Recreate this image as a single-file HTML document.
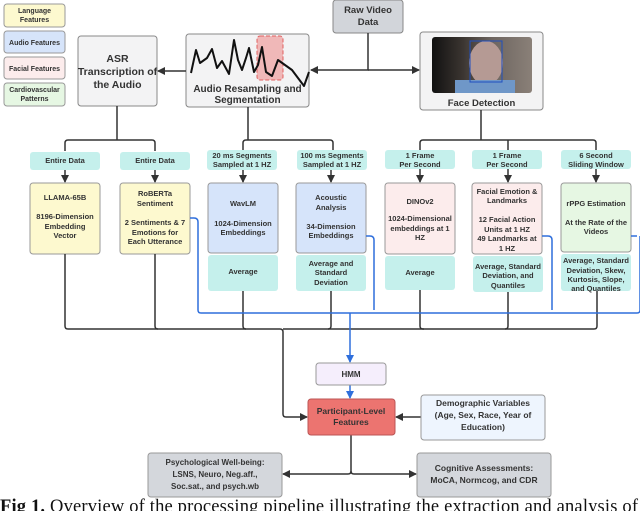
<!DOCTYPE html>
<html><head><meta charset="utf-8"><style>
body{margin:0;background:#fff;width:640px;height:511px;overflow:hidden}
svg{display:block}
text{font-family:"Liberation Sans",sans-serif;font-weight:bold;fill:#333;text-anchor:middle}
text.cap{font-family:"Liberation Serif",serif;font-weight:normal;fill:#111;text-anchor:start}
</style></head><body>
<svg width="640" height="511" viewBox="0 0 640 511">
<defs>
<marker id="a" markerWidth="8" markerHeight="8" refX="7" refY="4" orient="auto" markerUnits="userSpaceOnUse"><path d="M0,0 L8,4 L0,8z" fill="#333"/></marker>
<marker id="b" markerWidth="8" markerHeight="8" refX="7" refY="4" orient="auto" markerUnits="userSpaceOnUse"><path d="M0,0 L8,4 L0,8z" fill="#2f6fdc"/></marker>
<linearGradient id="ph" x1="0" x2="1"><stop offset="0" stop-color="#111"/><stop offset="0.3" stop-color="#3a3430"/><stop offset="0.6" stop-color="#6d6560"/><stop offset="1" stop-color="#8a8078"/></linearGradient>
</defs>
<g stroke="#999" stroke-width="1">
<rect x="4" y="4" width="61" height="23" rx="3" fill="#fdf9cf"/>
<rect x="4" y="31" width="61" height="22" rx="3" fill="#d6e4fa"/>
<rect x="4" y="57" width="61" height="22" rx="3" fill="#fcecec"/>
<rect x="4" y="83" width="61" height="23" rx="3" fill="#e6f7e3"/>
</g>
<g font-size="7">
<text x="34.5" y="13">Language</text><text x="34.5" y="22">Features</text>
<text x="34.5" y="45">Audio Features</text>
<text x="34.5" y="71">Facial Features</text>
<text x="34.5" y="92">Cardiovascular</text><text x="34.5" y="101">Patterns</text>
</g>
<rect x="78" y="36" width="79" height="70" rx="3" fill="#f3f3f4" stroke="#888"/>
<g font-size="10.5"><text x="117.5" y="62">ASR</text><text x="117.5" y="75">Transcription of</text><text x="117.5" y="88">the Audio</text></g>
<rect x="186" y="34" width="123" height="73" rx="3" fill="#f3f3f4" stroke="#888"/>
<rect x="257" y="36" width="26" height="44" rx="3" fill="#f0b8b8" stroke="#e06060" stroke-dasharray="4,2"/>
<polyline points="191,73 196,50 200,63 207,58 212,49 217,68 222,61 229,74 234,40 238,60 242,70 246,58 249,48 254,72 258,65 262,47 266,72 272,76 278,60 292,70 304,86 309,72" fill="none" stroke="#111" stroke-width="2" stroke-linejoin="round"/>
<g font-size="10"><text x="247.5" y="92">Audio Resampling and</text><text x="247.5" y="103">Segmentation</text></g>
<rect x="333" y="0" width="70" height="33" rx="3" fill="#d2d5da" stroke="#888"/>
<g font-size="9.5"><text x="368" y="13">Raw Video</text><text x="368" y="25">Data</text></g>
<rect x="420" y="32" width="123" height="78" rx="3" fill="#f3f3f4" stroke="#888"/>
<rect x="432" y="37" width="100" height="56" rx="3" fill="url(#ph)"/>
<ellipse cx="486" cy="63" rx="17" ry="22" fill="#b59a94"/>
<rect x="455" y="80" width="60" height="13" fill="#6f97c8"/>
<rect x="470" y="41" width="32" height="41" fill="none" stroke="#1f4fbf" stroke-width="1"/>
<text x="481.5" y="106" font-size="9.5">Face Detection</text>
<g stroke="#333" stroke-width="1.5" fill="none">
<line x1="186" y1="71" x2="158" y2="71" marker-end="url(#a)"/>
<path d="M368,33 V70 H311" marker-end="url(#a)"/>
<path d="M368,70 H419" marker-end="url(#a)"/>
<path d="M117,106 V140 M65,151 V143 Q65,140 68,140 H152 Q155,140 155,143 V151"/>
<path d="M248,107 V140 M243,150 V143 Q243,140 246,140 H330 Q333,140 333,143 V150"/>
<path d="M481,110 V140 M420,150 V143 Q420,140 423,140 H593 Q596,140 596,143 V150 M508,140 V150"/>
<path d="M65,170 V182" marker-end="url(#a)"/><path d="M155,170 V182" marker-end="url(#a)"/>
<path d="M243,170 V182" marker-end="url(#a)"/><path d="M331,170 V182" marker-end="url(#a)"/>
<path d="M420,169 V182" marker-end="url(#a)"/><path d="M508,169 V182" marker-end="url(#a)"/>
<path d="M596,169 V182" marker-end="url(#a)"/>
</g>
<g fill="#c5f0ec">
<rect x="30" y="152" width="70" height="18" rx="3"/><rect x="120" y="152" width="70" height="18" rx="3"/>
<rect x="207" y="150" width="70" height="20" rx="3"/><rect x="297" y="150" width="70" height="20" rx="3"/>
<rect x="385" y="150" width="70" height="19" rx="3"/><rect x="472" y="150" width="70" height="19" rx="3"/>
<rect x="561" y="150" width="70" height="19" rx="3"/>
</g>
<g font-size="7.5">
<text x="65" y="163">Entire Data</text><text x="155" y="163">Entire Data</text>
<text x="242" y="158">20 ms Segments</text><text x="242" y="167">Sampled at 1 HZ</text>
<text x="332" y="158">100 ms Segments</text><text x="332" y="167">Sampled at 1 HZ</text>
<text x="420" y="158">1 Frame</text><text x="420" y="167">Per Second</text>
<text x="507" y="158">1 Frame</text><text x="507" y="167">Per Second</text>
<text x="596" y="158">6 Second</text><text x="596" y="167">Sliding Window</text>
</g>
<g stroke="#999">
<rect x="30" y="183" width="70" height="71" rx="3" fill="#fdf9cf"/>
<rect x="120" y="183" width="70" height="71" rx="3" fill="#fdf9cf"/>
<rect x="208" y="183" width="70" height="70" rx="3" fill="#d6e4fa"/>
<rect x="296" y="183" width="70" height="70" rx="3" fill="#d6e4fa"/>
<rect x="385" y="183" width="70" height="71" rx="3" fill="#fcecec"/>
<rect x="472" y="183" width="70" height="71" rx="3" fill="#fcecec"/>
<rect x="561" y="183" width="70" height="69" rx="3" fill="#e6f7e3"/>
</g>
<g fill="#c5f0ec">
<rect x="208" y="255" width="70" height="36" rx="3"/><rect x="296" y="255" width="70" height="36" rx="3"/>
<rect x="385" y="256" width="70" height="34" rx="3"/><rect x="473" y="256" width="70" height="36" rx="3"/>
<rect x="561" y="254" width="70" height="37" rx="3"/>
</g>
<g font-size="7.5">
<text x="65" y="200">LLAMA-65B</text><text x="65" y="219">8196-Dimension</text><text x="65" y="229">Embedding</text><text x="65" y="238">Vector</text>
<text x="155" y="196">RoBERTa</text><text x="155" y="206">Sentiment</text><text x="155" y="225">2 Sentiments &amp; 7</text><text x="155" y="235">Emotions for</text><text x="155" y="244">Each Utterance</text>
<text x="243" y="206">WavLM</text><text x="243" y="226">1024-Dimension</text><text x="243" y="235">Embeddings</text>
<text x="243" y="274">Average</text>
<text x="331" y="200">Acoustic</text><text x="331" y="210">Analysis</text><text x="331" y="229">34-Dimension</text><text x="331" y="238">Embeddings</text>
<text x="331" y="266">Average and</text><text x="331" y="275">Standard</text><text x="331" y="285">Deviation</text>
<text x="420" y="204">DINOv2</text><text x="420" y="221">1024-Dimensional</text><text x="420" y="231">embeddings at 1</text><text x="420" y="240">HZ</text>
<text x="420" y="275">Average</text>
<text x="507" y="194">Facial Emotion &amp;</text><text x="507" y="203">Landmarks</text><text x="507" y="222">12 Facial Action</text><text x="507" y="232">Units at 1 HZ</text><text x="507" y="241">49 Landmarks at</text><text x="507" y="251">1 HZ</text>
<text x="508" y="269">Average, Standard</text><text x="508" y="278">Deviation, and</text><text x="508" y="288">Quantiles</text>
<text x="596" y="206">rPPG Estimation</text><text x="596" y="225">At the Rate of the</text><text x="596" y="234">Videos</text>
<text x="596" y="263">Average, Standard</text><text x="596" y="273">Deviation, Skew,</text><text x="596" y="282">Kurtosis, Slope,</text><text x="596" y="291">and Quantiles</text>
</g>
<g stroke="#333" stroke-width="1.5" fill="none">
<path d="M65,254 V326 Q65,329 68,329 H280 Q283,329 283,332 V414 Q283,417 286,417 H307" marker-end="url(#a)"/>
<path d="M155,254 V326 Q155,329 158,329"/>
<path d="M243,291 V326 Q243,329 246,329"/>
<path d="M331,291 V326 Q331,329 328,329"/>
<path d="M420,290 V326 Q420,329 423,329 H594 Q597,329 597,326 V291"/>
<path d="M508,292 V326 Q508,329 505,329"/>
<path d="M283,329 H424"/>
<path d="M421,417 H396" marker-end="url(#a)"/>
<path d="M351,435 V471 Q351,474 348,474 H283" marker-end="url(#a)"/>
<path d="M351,471 Q351,474 354,474 H416" marker-end="url(#a)"/>
</g>
<g stroke="#2f6fdc" stroke-width="1.5" fill="none">
<path d="M190,218 H194 Q198,218 198,222 V310 Q198,313 201,313 H637 Q640,313 640,310 V236"/>
<path d="M366,236 H370 Q374,236 374,240 V310"/>
<path d="M542,236 H548 Q552,236 552,240 V310"/>
<path d="M631,236 H637"/>
<path d="M350,313 V362" marker-end="url(#b)"/>
<path d="M350,385 V398" marker-end="url(#b)"/>
</g>
<rect x="316" y="363" width="70" height="22" rx="3" fill="#f5eefc" stroke="#999"/>
<text x="351" y="377" font-size="8">HMM</text>
<rect x="308" y="399" width="87" height="36" rx="3" fill="#ec7470" stroke="#b55"/>
<g font-size="8.5"><text x="351" y="414">Participant-Level</text><text x="351" y="425">Features</text></g>
<rect x="421" y="395" width="124" height="45" rx="3" fill="#eef5fe" stroke="#999"/>
<g font-size="8.5"><text x="483" y="406">Demographic Variables</text><text x="483" y="418">(Age, Sex, Race, Year of</text><text x="483" y="430">Education)</text></g>
<rect x="148" y="453" width="134" height="44" rx="3" fill="#d4d7dc" stroke="#999"/>
<g font-size="8"><text x="215" y="465">Psychological Well-being:</text><text x="215" y="477">LSNS, Neuro, Neg.aff.,</text><text x="215" y="489">Soc.sat., and psych.wb</text></g>
<rect x="417" y="453" width="134" height="44" rx="3" fill="#d4d7dc" stroke="#999"/>
<g font-size="8.5"><text x="484" y="471">Cognitive Assessments:</text><text x="484" y="483">MoCA, Normcog, and CDR</text></g>
<text class="cap" x="0" y="512" font-size="18.5" textLength="638" lengthAdjust="spacing"><tspan style="font-weight:bold">Fig 1.</tspan> Overview of the processing pipeline illustrating the extraction and analysis of</text>
</svg>
</body></html>
